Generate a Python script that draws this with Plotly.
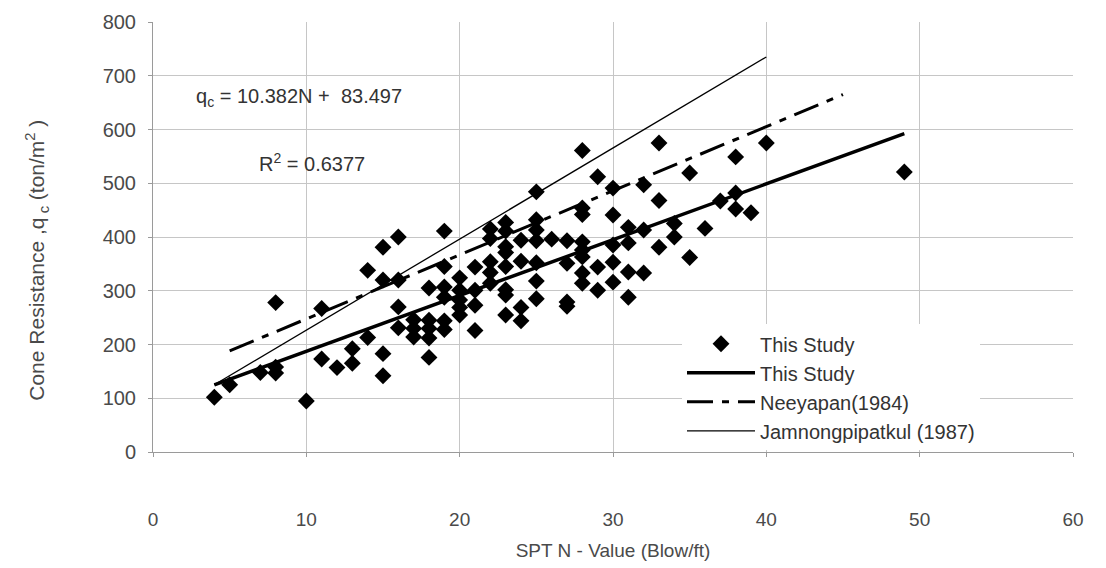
import plotly.graph_objects as go

# Field data: SPT N-value (blows/ft) and measured cone resistance qc (ton/m^2)
spt_n = [
    4, 5, 7, 8, 8, 8, 10, 11, 11, 12,
    13, 13, 14, 14, 15, 15, 15, 15, 16, 16, 16, 16,
    17, 17, 17, 18, 18, 18, 18, 18,
    19, 19, 19, 19, 19, 19, 20, 20, 20, 20, 20,
    21, 21, 21, 21, 22, 22, 22, 22, 22,
    23, 23, 23, 23, 23, 23, 23, 23, 24, 24, 24, 24,
    25, 25, 25, 25, 25, 25, 25, 26, 27, 27, 27, 27,
    28, 28, 28, 28, 28, 28, 28, 28, 29, 29, 29,
    30, 30, 30, 30, 30, 31, 31, 31, 31, 32, 32, 32,
    33, 33, 33, 34, 34, 35, 35, 36, 37, 38, 38, 38, 39, 40, 49,
]
cone_qc = [
    102, 125, 148, 278, 158, 147, 95, 267, 173, 157,
    192, 165, 338, 213, 381, 320, 183, 142, 400, 320, 270, 231,
    246, 230, 214, 305, 245, 230, 212, 176,
    411, 345, 307, 288, 244, 228, 324, 301, 283, 269, 255,
    344, 301, 273, 226, 415, 397, 354, 334, 314,
    427, 411, 382, 371, 345, 302, 292, 255, 394, 355, 269, 244,
    484, 432, 413, 393, 352, 318, 285, 396, 393, 351, 279, 271,
    561, 454, 442, 391, 376, 363, 333, 314, 512, 344, 301,
    491, 441, 385, 353, 316, 418, 389, 335, 288, 497, 413, 333,
    575, 468, 381, 425, 400, 519, 362, 416, 467, 549, 482, 452, 445, 575, 521,
]

# Linear fit of this study: qc = slope * N + intercept
fit_slope = 10.382
fit_intercept = 83.497
fit_r2 = 0.6377
fit_n = [4, 49]
fit_qc = [fit_slope * n + fit_intercept for n in fit_n]

# Earlier correlations
neeyapan_n = [5, 45]
neeyapan_qc = [188, 665]
jamnong_n = [4, 40]
jamnong_qc = [125, 735]

FONT = "Liberation Sans, Arial, sans-serif"
TEXT = "#4a4a4a"
GRID = "#c6c6c6"

fig = go.Figure()
fig.add_trace(go.Scatter(
    x=spt_n, y=cone_qc, mode="markers", name="This Study",
    marker=dict(symbol="diamond", size=13, color="black"),
))
fig.add_trace(go.Scatter(
    x=fit_n, y=fit_qc, mode="lines", name="This Study",
    line=dict(color="black", width=3.5),
))
fig.add_trace(go.Scatter(
    x=neeyapan_n, y=neeyapan_qc, mode="lines", name="Neeyapan(1984)",
    line=dict(color="black", width=3, dash="26px,9px,7px,9px"),
))
fig.add_trace(go.Scatter(
    x=jamnong_n, y=jamnong_qc, mode="lines", name="Jamnongpipatkul (1987)",
    line=dict(color="black", width=1.3),
))

fig.add_annotation(
    x=2.7, y=659, xref="x", yref="y", xanchor="left", yanchor="middle",
    text=f"q<sub>c</sub> = {fit_slope}N +  {fit_intercept}",
    showarrow=False, font=dict(family=FONT, size=20, color="#333"),
)
fig.add_annotation(
    x=6.8, y=538, xref="x", yref="y", xanchor="left", yanchor="middle",
    text=f"R<sup>2</sup> = {fit_r2}",
    showarrow=False, font=dict(family=FONT, size=20, color="#333"),
)
fig.add_annotation(
    x=-0.126, y=0.445, xref="paper", yref="paper", textangle=-90,
    xanchor="center", yanchor="middle",
    text="Cone Resistance ,q<sub> c</sub> (ton/m<sup>2</sup> )",
    showarrow=False, font=dict(family=FONT, size=21, color=TEXT),
)

fig.update_layout(
    width=1106, height=568,
    margin=dict(l=153, r=33, t=22, b=116),
    paper_bgcolor="white", plot_bgcolor="white",
    font=dict(family=FONT, color=TEXT),
    showlegend=True,
    legend=dict(
        x=0.575, y=0.297, xanchor="left", yanchor="top",
        bgcolor="white", borderwidth=0, itemwidth=68,
        font=dict(family=FONT, size=20, color="#333"),
        tracegroupgap=0,
    ),
    xaxis=dict(
        range=[0, 60], dtick=10, showgrid=True, gridcolor=GRID, gridwidth=1,
        zeroline=False, showline=True, linecolor="#9a9a9a", linewidth=1,
        ticks="outside", ticklen=4, tickcolor="#9a9a9a", automargin=False,
        ticklabelstandoff=46, tickfont=dict(family=FONT, size=19, color=TEXT),
        title=dict(text="SPT N - Value (Blow/ft)", standoff=14,
                   font=dict(family=FONT, size=19, color=TEXT)),
    ),
    yaxis=dict(
        range=[0, 800], dtick=100, showgrid=True, gridcolor=GRID, gridwidth=1,
        zeroline=False, showline=True, linecolor="#9a9a9a", linewidth=1,
        ticks="outside", ticklen=4, tickcolor="#9a9a9a", automargin=False,
        ticklabelstandoff=8, tickfont=dict(family=FONT, size=20, color=TEXT),
    ),
)

fig.write_html("out.html")
